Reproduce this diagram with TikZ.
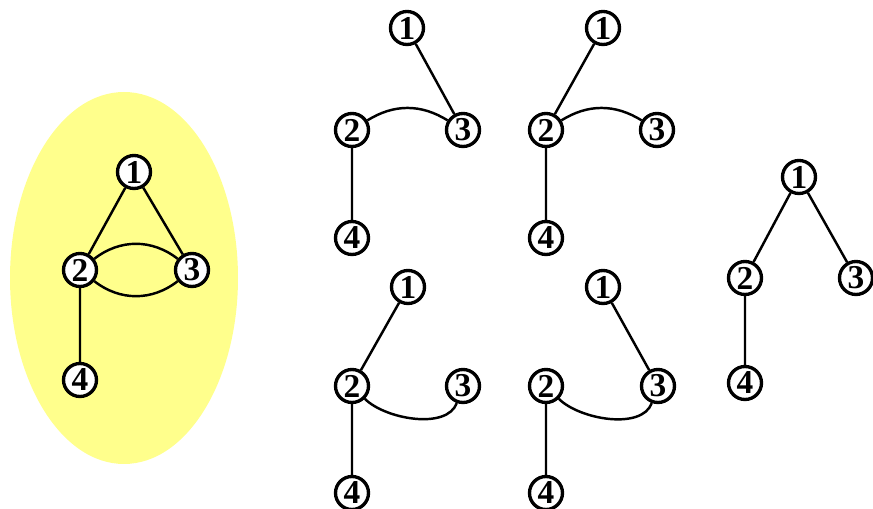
\documentclass[tikz,border=0pt]{standalone}
\usepackage{fontspec}
\setmainfont{Liberation Serif}
\definecolor{paleyel}{RGB}{255,255,140}

\begin{document}
\begin{tikzpicture}[x=0.02cm, y=-0.02cm,
		vtx/.style={circle, draw=black, fill=white, line width=1.9pt, inner sep=0pt, minimum size=0.66cm, font=\fontsize{19}{19}\selectfont\bfseries},
		edge/.style={line width=1.4pt}]
	\useasboundingbox (0,0) rectangle (873,509);

	% the original graph
	\fill[paleyel] (124,278) ellipse (114 and 186);
	\node[vtx] (a1) at (134,172) {1};
	\node[vtx] (a2) at (80,270) {2};
	\node[vtx] (a3) at (192,270) {3};
	\node[vtx] (a4) at (80,380) {4};
	\draw[edge] (a1) -- (a2) (a1) -- (a3) (a2) -- (a4);
	\draw[edge] (a2) to[bend left=38] (a3);
	\draw[edge] (a2) to[bend right=38] (a3);

	% spanning trees, top row
	\node[vtx] (b1) at (407,28) {1};
	\node[vtx] (b2) at (352,130) {2};
	\node[vtx] (b3) at (463,130) {3};
	\node[vtx] (b4) at (352,238) {4};
	\draw[edge] (b1) -- (b3) (b2) -- (b4);
	\draw[edge] (b2) to[bend left=32] (b3);

	\node[vtx] (c1) at (603,28) {1};
	\node[vtx] (c2) at (546,130) {2};
	\node[vtx] (c3) at (657,130) {3};
	\node[vtx] (c4) at (546,238) {4};
	\draw[edge] (c1) -- (c2) (c2) -- (c4);
	\draw[edge] (c2) to[bend left=32] (c3);

	% spanning trees, bottom row
	\node[vtx] (d1) at (408,287) {1};
	\node[vtx] (d2) at (352,386) {2};
	\node[vtx] (d3) at (463,386) {3};
	\node[vtx] (d4) at (352,493) {4};
	\draw[edge] (d1) -- (d2) (d2) -- (d4);
	\draw[edge] (d2) to[out=-45, in=-110, looseness=0.8] (d3);

	\node[vtx] (e1) at (603,287) {1};
	\node[vtx] (e2) at (546,386) {2};
	\node[vtx] (e3) at (658,386) {3};
	\node[vtx] (e4) at (546,493) {4};
	\draw[edge] (e1) -- (e3) (e2) -- (e4);
	\draw[edge] (e2) to[out=-45, in=-110, looseness=0.8] (e3);

	% spanning tree, right
	\node[vtx] (f1) at (799,177) {1};
	\node[vtx] (f2) at (745,278) {2};
	\node[vtx] (f3) at (856,278) {3};
	\node[vtx] (f4) at (745,383) {4};
	\draw[edge] (f1) -- (f2) (f1) -- (f3) (f2) -- (f4);
\end{tikzpicture}
\end{document}
